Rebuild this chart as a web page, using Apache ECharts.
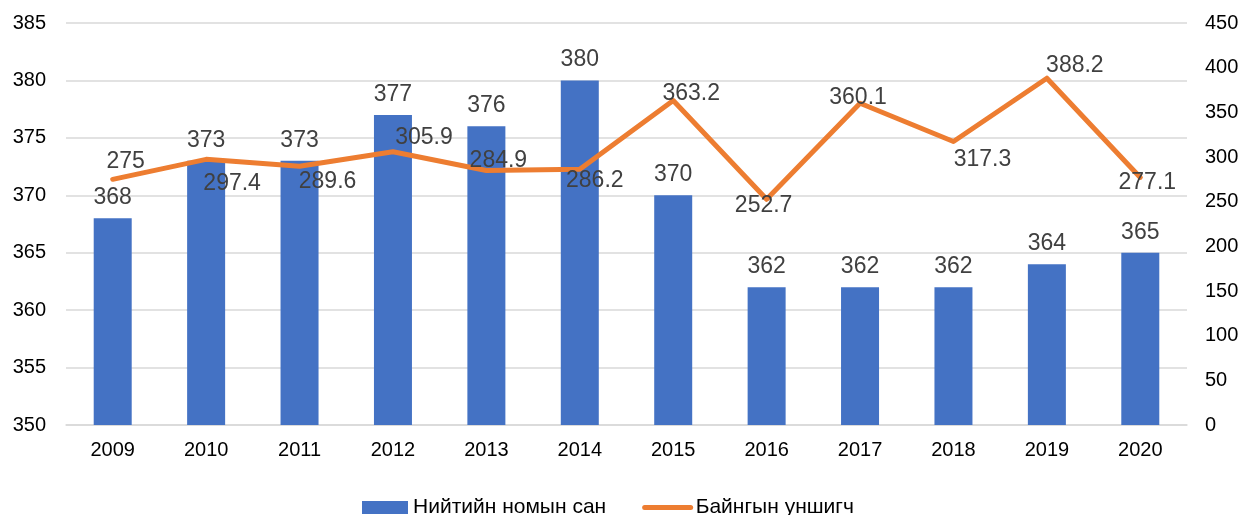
<!DOCTYPE html>
<html>
<head>
<meta charset="utf-8">
<script src="https://cdn.jsdelivr.net/npm/echarts@6/dist/echarts.min.js"></script>
<style>
  html, body { margin: 0; padding: 0; background: #fff; }
  #main { width: 1243px; height: 515px; }
</style>
</head>
<body>
<div id="main"></div>
<script>
var years = ['2009', '2010', '2011', '2012', '2013', '2014', '2015', '2016', '2017', '2018', '2019', '2020'];
var libraries = [368, 373, 373, 377, 376, 380, 370, 362, 362, 362, 364, 365];
var readers = [275, 297.4, 289.6, 305.9, 284.9, 286.2, 363.2, 252.7, 360.1, 317.3, 388.2, 277.1];
var seriesNames = ['Нийтийн номын сан', 'Байнгын уншигч'];

// label offset from each line point (label centred on the point first)
var lineLabelOffset = [
    [13, -18], [26, 24], [28, 15], [31, -14], [12, -10], [15, 11],
    [18, -7], [-3, 6], [-2, -6], [29, 18], [28, -13], [7, 5]
];

var myChart = echarts.init(document.getElementById('main'));

var lineData = readers.map(function (v, i) {
    return { value: v, label: { offset: lineLabelOffset[i] } };
});

var option = {
    animation: false,
    textStyle: { fontFamily: 'Liberation Sans, Arial, sans-serif' },
    grid: { left: 66, right: 56, top: 23, bottom: 90 },
    legend: {
        top: 492,
        left: 357,
        itemGap: 36,
        itemWidth: 46,
        itemHeight: 13,
        textStyle: { fontSize: 21, color: '#000' },
        data: [
            { name: seriesNames[0], icon: 'rect' },
            { name: seriesNames[1], itemStyle: { opacity: 0 }, lineStyle: { width: 5, cap: 'round' } }
        ]
    },
    xAxis: {
        type: 'category',
        data: years,
        axisTick: { show: false },
        axisLine: { lineStyle: { color: '#d9d9d9', width: 1.5 } },
        axisLabel: { color: '#000', fontSize: 20, margin: 15 }
    },
    yAxis: [
        {
            type: 'value',
            min: 350,
            max: 385,
            interval: 5,
            axisLabel: { color: '#000', fontSize: 20, margin: 20 },
            splitLine: { lineStyle: { color: '#d9d9d9', width: 1.5 } }
        },
        {
            type: 'value',
            min: 0,
            max: 450,
            interval: 50,
            axisLabel: { color: '#000', fontSize: 20, margin: 18 },
            splitLine: { show: false }
        }
    ],
    series: [
        {
            name: seriesNames[0],
            type: 'bar',
            data: libraries,
            barWidth: 38,
            itemStyle: { color: '#4472C4' },
            label: { show: true, position: 'top', distance: 9, color: '#404040', fontSize: 23 }
        },
        {
            name: seriesNames[1],
            type: 'line',
            yAxisIndex: 1,
            data: lineData,
            symbol: 'circle',
            symbolSize: 1,
            showSymbol: true,
            lineStyle: { color: '#ED7D31', width: 5, cap: 'round', join: 'round' },
            itemStyle: { color: '#ED7D31' },
            label: { show: true, position: 'inside', color: '#404040', fontSize: 23 },
            z: 3
        }
    ]
};

myChart.setOption(option);
</script>
</body>
</html>
